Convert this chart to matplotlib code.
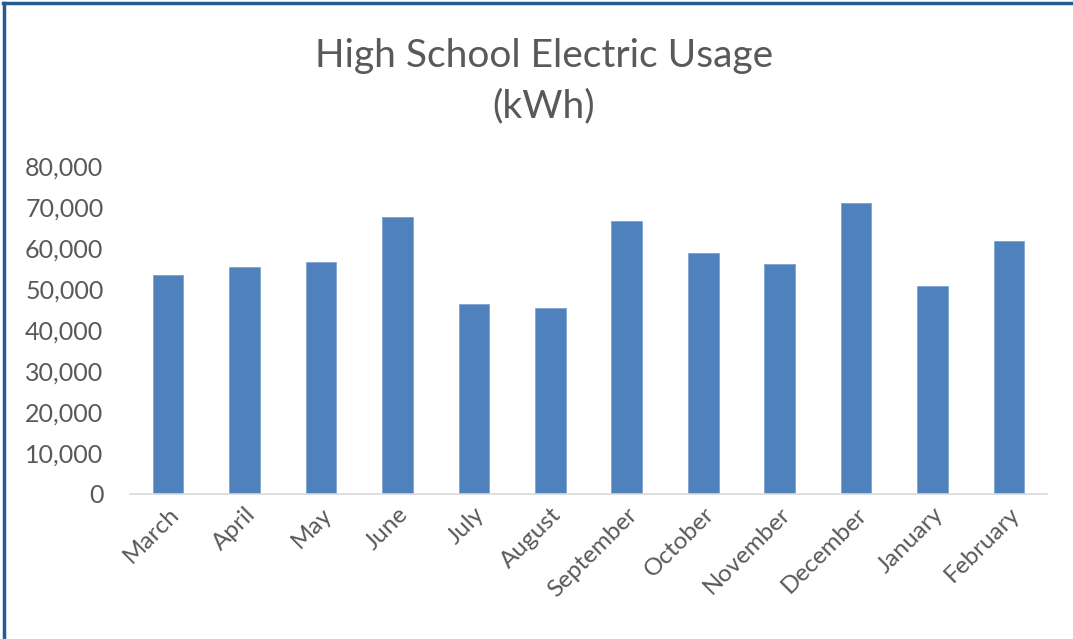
import matplotlib.pyplot as plt
from matplotlib.lines import Line2D
from matplotlib.ticker import FuncFormatter

plt.rcParams['font.family'] = ['Lato', 'DejaVu Sans']

months = ["March", "April", "May", "June", "July", "August",
          "September", "October", "November", "December", "January", "February"]
usage_kwh = [53400, 55500, 56500, 67500, 46300, 45400,
             66600, 58800, 56100, 71000, 50700, 61800]

text_gray = "#595959"
bar_blue = "#4F81BD"

fig = plt.figure(figsize=(10.73, 6.39), dpi=100)
ax = fig.add_axes([0.121, 0.227, 0.855, 0.513])

x = range(len(months))
ax.bar(x, usage_kwh, width=0.4, color=bar_blue, edgecolor="#7FA3D1", linewidth=0.6)

ax.set_xlim(-0.5, len(months) - 0.5)
ax.set_ylim(0, 80000)
ax.set_yticks(range(0, 80001, 10000))
ax.yaxis.set_major_formatter(FuncFormatter(lambda v, p: f"{int(v):,}"))
ax.set_xticks(list(x))
ax.set_xticklabels(months, rotation=45, ha="right", rotation_mode="anchor")

ax.tick_params(axis="y", length=0, pad=19, labelsize=18, labelcolor=text_gray)
ax.tick_params(axis="x", length=0, pad=7, labelsize=17.5, labelcolor=text_gray)

for side in ["top", "right", "left"]:
    ax.spines[side].set_visible(False)
ax.spines["bottom"].set_color("#D9D9D9")
ax.spines["bottom"].set_linewidth(1.2)

fig.text(0.507, 0.912, "High School Electric Usage", ha="center", va="center",
         fontsize=28, color=text_gray)
fig.text(0.507, 0.833, "(kWh)", ha="center", va="center",
         fontsize=28, color=text_gray)

# frame around the chart area
border = "#215E8F"
fig.add_artist(Line2D([0.003, 1.0], [0.995, 0.995], color=border, lw=2.5,
                      transform=fig.transFigure))
fig.add_artist(Line2D([0.004, 0.004], [0.0, 0.995], color=border, lw=2.5,
                      transform=fig.transFigure))

fig.savefig("out.png", dpi=100)
